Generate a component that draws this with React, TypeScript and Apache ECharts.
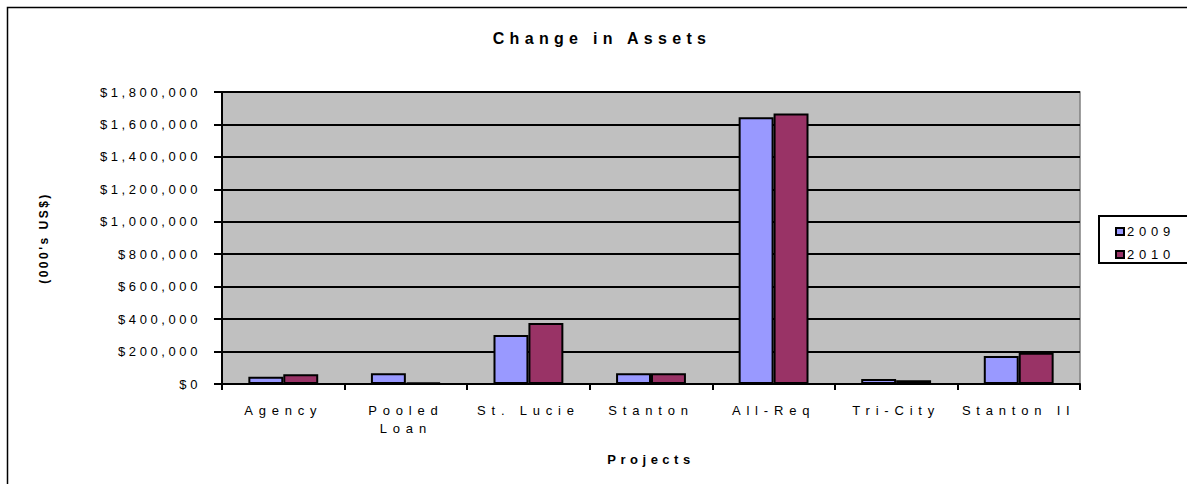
import React, { useEffect, useRef } from "react";
import * as echarts from "echarts";

const categories = ["Agency", "Pooled\nLoan", "St. Lucie", "Stanton", "All-Req", "Tri-City", "Stanton II"];
const values2009 = [45000, 66000, 302000, 66000, 1644000, 31000, 173000];
const values2010 = [60000, 8000, 376000, 66000, 1668000, 23000, 193000];
const seriesNames = ["2009", "2010"];
const yTicks = { min: 0, max: 1800000, interval: 200000 };

const FONT = "'Liberation Sans', Arial, sans-serif";

export default function App() {
  const ref = useRef<HTMLDivElement>(null);

  useEffect(() => {
    if (!ref.current) return;
    const chart = echarts.init(ref.current, undefined, { renderer: "svg" });

    const applySpacing = () => {
      const el = ref.current;
      if (!el) return;
      el.querySelectorAll("text").forEach((t) => {
        const s = (t.textContent || "").trim();
        let sp = 5.8;
        if (s === "Change in Assets") sp = 5.3;
        else if (s.startsWith("$")) sp = 3.6;
        else if (s === "2009" || s === "2010") sp = 4.8;
        else if (s === "Projects") sp = 4.5;
        else if (s.startsWith("(")) sp = 2.5;
        (t as SVGTextElement).style.letterSpacing = sp + "px";
      });
    };

    chart.setOption({
      animation: false,
      textStyle: { fontFamily: FONT },
      title: {
        text: "Change in Assets",
        left: 597,
        top: 25,
        textAlign: "center",
        textStyle: { fontSize: 16, fontWeight: "bold", color: "#000", fontFamily: FONT },
      },
      legend: {
        orient: "vertical",
        left: 1110,
        top: 220,
        itemWidth: 8,
        itemHeight: 7,
        itemGap: 10,
        icon: "rect",
        data: seriesNames,
        textStyle: { fontSize: 13, color: "#000", fontFamily: FONT, padding: [0, 0, 0, -2] },
      },
      graphic: [
        {
          type: "polyline",
          z: -10,
          shape: { points: [[7.5, 700], [7.5, 7.5], [1400, 7.5]] },
          style: { stroke: "#000", lineWidth: 1.5, fill: "none" },
        },
        {
          type: "rect",
          z: -5,
          shape: { x: 1099, y: 216, width: 200, height: 47 },
          style: { stroke: "#000", lineWidth: 2, fill: "#fff" },
        },
      ],
      grid: {
        left: 222,
        top: 92,
        width: 858,
        height: 292,
        show: true,
        backgroundColor: "#c0c0c0",
        borderColor: "#808080",
        borderWidth: 1.5,
      },
      xAxis: {
        type: "category",
        data: categories,
        name: "Projects",
        nameLocation: "middle",
        nameGap: 69,
        nameTextStyle: { fontSize: 13, fontWeight: "bold", color: "#000", fontFamily: FONT },
        axisLine: { lineStyle: { color: "#000", width: 2 } },
        axisTick: { show: true, alignWithLabel: false, length: 6, lineStyle: { color: "#000", width: 2 } },
        axisLabel: { fontSize: 13, color: "#000", margin: 17, lineHeight: 18, interval: 0, fontFamily: FONT },
      },
      yAxis: {
        type: "value",
        min: yTicks.min,
        max: yTicks.max,
        interval: yTicks.interval,
        name: "(000's US$)",
        nameLocation: "middle",
        nameGap: 172,
        nameRotate: 90,
        nameTextStyle: { fontSize: 12, fontWeight: "bold", color: "#000", fontFamily: FONT },
        axisLine: { show: true, lineStyle: { color: "#000", width: 2 } },
        axisTick: { show: true, length: 8, lineStyle: { color: "#000", width: 2 } },
        splitLine: { lineStyle: { color: "#000", width: 2 } },
        axisLabel: {
          fontSize: 13,
          color: "#000",
          margin: 21,
          fontFamily: FONT,
          formatter: (v: number) => "$" + v.toLocaleString("en-US"),
        },
      },
      series: [
        {
          name: seriesNames[0],
          type: "bar",
          data: values2009,
          barGap: "0%",
          barCategoryGap: "43%",
          itemStyle: { color: "#9999ff", borderColor: "#000", borderWidth: 2 },
        },
        {
          name: seriesNames[1],
          type: "bar",
          data: values2010,
          barGap: "0%",
          barCategoryGap: "43%",
          itemStyle: { color: "#993366", borderColor: "#000", borderWidth: 2 },
        },
      ],
    });
    applySpacing();
    chart.on("finished", applySpacing);

    return () => {
      chart.dispose();
    };
  }, []);

  return (
    <div
      ref={ref}
      style={{ position: "fixed", left: 0, top: 0, width: 1187, height: 484, background: "#fff" }}
    />
  );
}
